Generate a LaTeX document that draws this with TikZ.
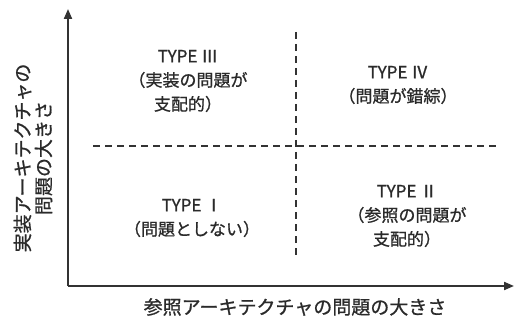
\documentclass[tikz,border=0pt]{standalone}
\usepackage{fontspec}
\setmainfont{Noto Sans CJK JP}[AutoFakeBold=0.9]
\usetikzlibrary{arrows.meta}
\definecolor{ink}{HTML}{2A2A2A}
\definecolor{line}{HTML}{333333}
\begin{document}
\begin{tikzpicture}[x=1pt,y=-1pt,
  axis/.style={draw=line,line width=2pt,-{Triangle[length=10pt,width=8pt]}},
  divider/.style={draw=line,line width=1.3pt,dash pattern=on 7pt off 5pt},
  quad/.style={text=ink,align=center,font=\bfseries\fontsize{17}{24}\selectfont,inner sep=0pt},
  axlabel/.style={text=ink,align=center,font=\bfseries\fontsize{19}{21}\selectfont,inner sep=0pt}]
\useasboundingbox (0,0) rectangle (516,323);
\coordinate (o) at (68,286);
\coordinate (ytop) at (68,9);
\coordinate (xend) at (514,286);
\coordinate (vtop) at (296,32);
\coordinate (vbot) at (296,257);
\coordinate (hl) at (93,146);
\coordinate (hr) at (498,146);
\draw[axis] (o) -- (ytop);
\draw[axis] (o) -- (xend);
\draw[divider] (vtop) -- (vbot);
\draw[divider] (hl) -- (hr);
\node[quad] (t3) at (188,81) {TYPE Ⅲ\\（実装の問題が\\支配的）};
\node[quad] (t4) at (398,85) {TYPE Ⅳ\\（問題が錯綜）};
\node[quad] (t1) at (192,218) {TYPE Ⅰ\\（問題としない）};
\node[quad] (t2) at (407,216) {TYPE Ⅱ\\（参照の問題が\\支配的）};
\node[axlabel] (xl) at (295,307) {参照アーキテクチャの問題の大きさ};
\node[axlabel,rotate=90] (yl) at (33,158) {実装アーキテクチャの\\問題の大きさ};
\end{tikzpicture}
\end{document}
